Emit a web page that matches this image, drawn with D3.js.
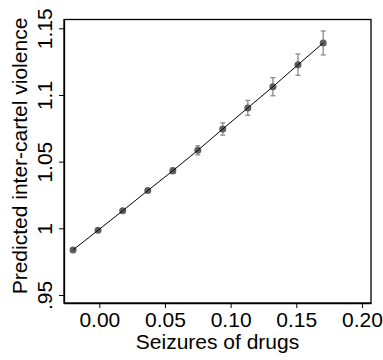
<!DOCTYPE html>
<html>
<head>
<meta charset="utf-8">
<script src="https://cdn.jsdelivr.net/npm/d3@7"></script>
<style>
  body { margin: 0; background: #fff; }
  text { font-family: "Liberation Sans", Arial, sans-serif; fill: #000; }
</style>
</head>
<body>
<svg id="svg" width="383" height="360"></svg>
<script>
// predicted values by seizures, with ci bars
var seizures = [-0.020, -0.001, 0.0178, 0.0369, 0.056, 0.075, 0.094, 0.1131, 0.1322, 0.1513, 0.1705];
var predicted = [0.9838, 0.9985, 1.0132, 1.0283, 1.0432, 1.0585, 1.0745, 1.0903, 1.1062, 1.1227, 1.139];
var halfCI = [0.0005, 0.0005, 0.0006, 0.0011, 0.0022, 0.0034, 0.0046, 0.0056, 0.0068, 0.008, 0.009];

var xTicks = [0, 0.05, 0.1, 0.15, 0.2];
var xTickLabels = ["0.00", "0.05", "0.10", "0.15", "0.20"];
var yTicks = [0.95, 1, 1.05, 1.1, 1.15];
var yTickLabels = [".95", "1", "1.05", "1.1", "1.15"];

var width = 383,
height = 360

// plot box (window.top is taken, so prefix these)
var pLeft = 64, pRight = 371, pTop = 19.5, pBottom = 303;

var svg = d3.select('svg');

var x = d3.scaleLinear()
    .domain([-0.0269, 0.2069])
    .range([pLeft, pRight]);

var y = d3.scaleLinear()
    .domain([0.944, 1.1566])
    .range([pBottom, pTop]);

var points = seizures.map(function(s, i) {
  return {x: s, y: predicted[i], e: halfCI[i]};
});

// frame
svg.append("rect")
  .attr("x", pLeft)
  .attr("y", pTop)
  .attr("width", pRight - pLeft)
  .attr("height", pBottom - pTop)
  .attr("fill", "none")
  .attr("stroke", "#000")
  .attr("stroke-width", 1.3);

// x axis
var xAxis = d3.axisBottom(x)
  .tickValues(xTicks)
  .tickFormat(function(d, i) { return xTickLabels[i]; })
  .tickSize(5)
  .tickSizeOuter(0);

var gx = svg.append("g")
  .attr("transform", "translate(0," + pBottom + ")")
  .call(xAxis);
gx.select(".domain").attr("stroke", "#000").attr("stroke-width", 1.5);
gx.selectAll(".tick line").attr("stroke", "#000");
gx.selectAll(".tick text")
  .attr("y", 9)
  .attr("dy", "0.71em")
  .style("font-size", "21px");

// y axis, labels turned
var yAxis = d3.axisLeft(y)
  .tickValues(yTicks)
  .tickFormat(function(d, i) { return yTickLabels[i]; })
  .tickSize(5)
  .tickSizeOuter(0);

var gy = svg.append("g")
  .attr("transform", "translate(" + pLeft + ",0)")
  .call(yAxis);
gy.select(".domain").attr("stroke", "#000").attr("stroke-width", 1.3);
gy.selectAll(".tick line").attr("stroke", "#000");
gy.selectAll(".tick text")
  .attr("x", null)
  .attr("dy", null)
  .attr("text-anchor", "middle")
  .attr("transform", "translate(-12,0) rotate(-90)")
  .style("font-size", "21px");

// titles
svg.append("text")
  .attr("x", (pLeft + pRight) / 2)
  .attr("y", 349)
  .attr("text-anchor", "middle")
  .style("font-size", "21px")
  .text("Seizures of drugs");

svg.append("text")
  .attr("transform", "translate(27,156) rotate(-90)")
  .attr("text-anchor", "middle")
  .style("font-size", "21px")
  .text("Predicted inter-cartel violence");

// error bars
var bars = svg.append("g")
  .attr("stroke", "#8a8a8a")
  .attr("stroke-width", 1.3);

bars.selectAll("line.v")
  .data(points)
.enter().append("line")
  .attr("class", "v")
  .attr("x1", function(d) { return x(d.x); })
  .attr("x2", function(d) { return x(d.x); })
  .attr("y1", function(d) { return y(d.y - d.e); })
  .attr("y2", function(d) { return y(d.y + d.e); });

bars.selectAll("line.lo")
  .data(points)
.enter().append("line")
  .attr("class", "lo")
  .attr("x1", function(d) { return x(d.x) - 2.5; })
  .attr("x2", function(d) { return x(d.x) + 2.5; })
  .attr("y1", function(d) { return y(d.y - d.e); })
  .attr("y2", function(d) { return y(d.y - d.e); });

bars.selectAll("line.hi")
  .data(points)
.enter().append("line")
  .attr("class", "hi")
  .attr("x1", function(d) { return x(d.x) - 2.5; })
  .attr("x2", function(d) { return x(d.x) + 2.5; })
  .attr("y1", function(d) { return y(d.y + d.e); })
  .attr("y2", function(d) { return y(d.y + d.e); });

// markers
svg.selectAll("circle")
  .data(points)
.enter().append("circle")
  .attr("cx", function(d) { return x(d.x); })
  .attr("cy", function(d) { return y(d.y); })
  .attr("r", 3.5)
  .attr("fill", "#5e5e5e");

// connecting line
var line = d3.line()
  .x(function(d) { return x(d.x); })
  .y(function(d) { return y(d.y); });

svg.append("path")
  .datum(points)
  .attr("d", line)
  .attr("fill", "none")
  .attr("stroke", "#000")
  .attr("stroke-width", 1);
</script>
</body>
</html>
